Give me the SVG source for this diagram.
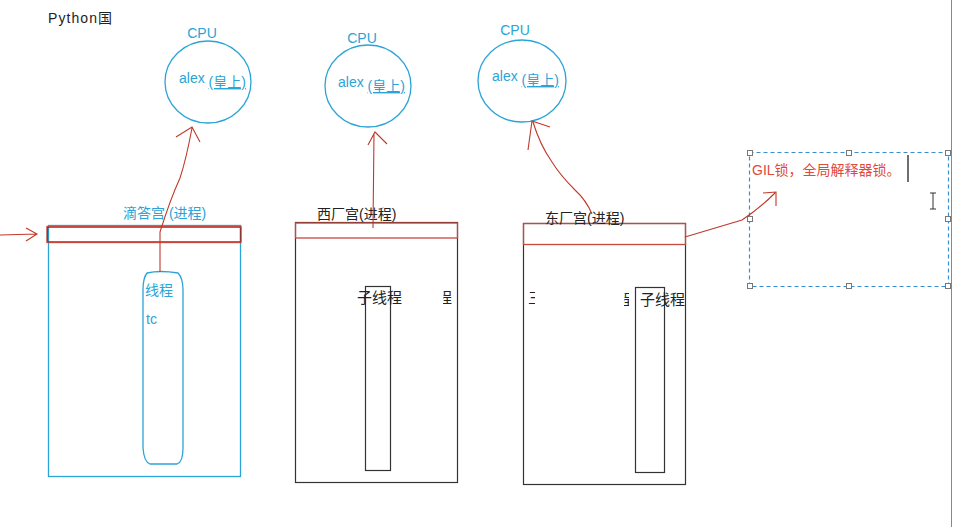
<svg xmlns="http://www.w3.org/2000/svg" width="953" height="527" viewBox="0 0 953 527">
<style>
text{font-family:"Liberation Sans","Noto Sans CJK SC",sans-serif}
.cy{fill:#2aa4d6}
.cyo{fill:none;stroke:#2aa4d6;stroke-width:1.3}
.blk{fill:none;stroke:#333;stroke-width:1.2}
.red{fill:none;stroke:#c8463c;stroke-width:1.3}
.rl{fill:none;stroke:#c0392b;stroke-width:1.1}
.h{fill:#fff;stroke:#777;stroke-width:1}
</style>
<defs>
<clipPath id="c1"><rect x="443" y="280" width="12" height="30"/></clipPath>
<clipPath id="c2"><rect x="528" y="280" width="7" height="30"/></clipPath>
<clipPath id="c3"><rect x="624" y="280" width="5" height="30"/></clipPath>
</defs>
<rect width="953" height="527" fill="#fff"/>
<line x1="951.5" y1="0" x2="951.5" y2="527" stroke="#888" stroke-width="1"/>
<text x="48" y="23" font-size="14" fill="#222" textLength="64">Python国</text>

<g id="cpu1">
<text x="202" y="38" font-size="14" class="cy" text-anchor="middle">CPU</text>
<ellipse cx="208" cy="82" rx="43" ry="41" class="cyo"/>
<text x="179" y="83" font-size="14" class="cy">alex <tspan dy="4" text-decoration="underline">(皇上)</tspan></text>
</g>
<g id="cpu2">
<text x="362" y="43" font-size="14" class="cy" text-anchor="middle">CPU</text>
<ellipse cx="368" cy="86" rx="43" ry="41" class="cyo"/>
<text x="338" y="87" font-size="14" class="cy">alex <tspan dy="4" text-decoration="underline">(皇上)</tspan></text>
</g>
<g id="cpu3">
<text x="515" y="35" font-size="14" class="cy" text-anchor="middle">CPU</text>
<ellipse cx="522" cy="81" rx="44" ry="41" class="cyo"/>
<text x="492" y="81" font-size="14" class="cy">alex <tspan dy="4" text-decoration="underline">(皇上)</tspan></text>
</g>

<g id="proc1">
<rect x="48.5" y="225.5" width="192" height="251" class="cyo"/>
<rect x="47.5" y="227" width="193" height="15" fill="none" stroke="#222" stroke-width="1.2"/>
<rect x="47" y="226.5" width="194" height="16" class="red"/>
<text x="123" y="218" font-size="14" class="cy">滴答宫 (进程)</text>
<path d="M147,273 Q160,270 178,273 Q183,278 183,290 L183,448 Q183,462 177,464 L150,464 Q144,462 143,448 L143,290 Q143,278 147,273 Z" class="cyo"/>
<text x="145" y="295" font-size="14" class="cy">线程</text>
<text x="146" y="324" font-size="14" class="cy">tc</text>
</g>

<g id="proc2">
<rect x="295.5" y="222.5" width="162" height="260" class="blk"/>
<rect x="295.5" y="223" width="162" height="15" class="red"/>
<text x="317" y="219" font-size="14" fill="#222">西厂宫(进程)</text>
<rect x="365.5" y="286.5" width="25" height="184" class="blk"/>
<text x="357" y="303" font-size="15" fill="#222">子线程</text>
<text x="437" y="303" font-size="15" fill="#222" clip-path="url(#c1)">程</text>
</g>

<g id="proc3">
<rect x="523.5" y="223.5" width="162" height="261" class="blk"/>
<rect x="523.5" y="223.5" width="162" height="21" class="red"/>
<text x="545" y="223" font-size="14" fill="#222">东厂宫(进程)</text>
<rect x="635.5" y="287.5" width="29" height="185" class="blk"/>
<text x="640" y="305" font-size="15" fill="#222">子线程</text>
<text x="528" y="303" font-size="15" fill="#222" clip-path="url(#c2)">三</text>
<text x="618" y="305" font-size="15" fill="#222" clip-path="url(#c3)">程</text>
</g>

<g id="gil">
<rect x="749.5" y="152.5" width="199" height="134" fill="none" stroke="#3a8fd0" stroke-width="1.2" stroke-dasharray="4,3"/>
<rect x="747.5" y="150.5" width="5" height="5" class="h"/>
<rect x="846.5" y="150.5" width="5" height="5" class="h"/>
<rect x="945.5" y="150.5" width="5" height="5" class="h"/>
<rect x="747.5" y="216.5" width="5" height="5" class="h"/>
<rect x="945.5" y="216.5" width="5" height="5" class="h"/>
<rect x="747.5" y="283.5" width="5" height="5" class="h"/>
<rect x="846.5" y="283.5" width="5" height="5" class="h"/>
<rect x="945.5" y="283.5" width="5" height="5" class="h"/>
<text x="752" y="175" font-size="14" fill="#e04a3c">GIL锁，全局解释器锁。</text>
<line x1="908" y1="155" x2="908" y2="182" stroke="#222" stroke-width="1.3"/>
<path d="M930,193 h6 M933,193 v16 M930,209 h6" fill="none" stroke="#333" stroke-width="1"/>
</g>

<g id="connectors">
<path d="M0,235 L36,234 M26,228 L37,234 L26,241" class="rl"/>
<path d="M160,272 L160,232 Q170,200 180,178 Q186,160 192,128 M176,137 L192,127 L200,142" class="rl"/>
<path d="M373,228 L374,133 M368,145 L375,132 L387,144" class="rl"/>
<path d="M592,214 Q586,200 575,190 Q560,175 552,162 Q540,145 533,122 M550,127 L532,121 L528,150" class="rl"/>
<path d="M685,237 Q715,228 742,220 Q760,208 775,193 M763,193 L776,192 L776,206" class="rl"/>
</g>
</svg>
